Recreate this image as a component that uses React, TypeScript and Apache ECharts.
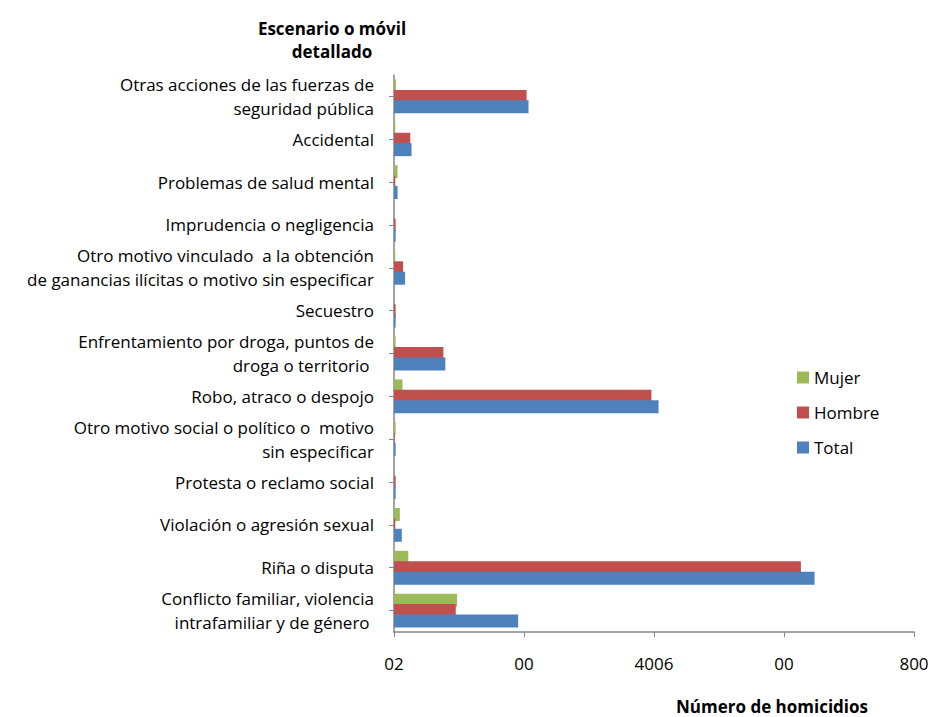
import React, { useEffect, useRef } from "react";
import * as echarts from "echarts";

const categories = [
  "Otras acciones de las fuerzas de\nseguridad pública",
  "Accidental",
  "Problemas de salud mental",
  "Imprudencia o negligencia",
  "Otro motivo vinculado  a la obtención\nde ganancias ilícitas o motivo sin especificar",
  "Secuestro",
  "Enfrentamiento por droga, puntos de\ndroga o territorio ",
  "Robo, atraco o despojo",
  "Otro motivo social o político o  motivo\nsin especificar",
  "Protesta o reclamo social",
  "Violación o agresión sexual",
  "Riña o disputa",
  "Conflicto familiar, violencia\nintrafamiliar y de género ",
];
const mujer = [3, 2, 5.5, 0, 2, 0, 2.5, 13, 2.5, 0, 9, 22, 97];
const hombre = [204, 25, 2, 2.5, 14, 2.5, 76, 396, 1, 2.5, 2, 626, 95];
const total = [207, 27, 5.5, 2.5, 17, 2.5, 79, 407, 2.5, 2.5, 12, 647, 191];
const xTickLabels: Record<number, string> = { 0: "02", 200: "00", 400: "4006", 600: "00", 800: "800" };

const FONT = "'Open Sans', Lato, sans-serif";

export default function App() {
  const ref = useRef<HTMLDivElement>(null);
  useEffect(() => {
    if (!ref.current) return;
    const chart = echarts.init(ref.current, null, { renderer: "svg" });
    const barCommon = { type: "bar" as const, barWidth: 13, barGap: "-20%" };
    chart.setOption({
      animation: false,
      textStyle: { fontFamily: FONT },
      grid: { left: 394, right: 20, top: 75, bottom: 85, containLabel: false },
      legend: {
        orient: "vertical",
        left: 792,
        top: 361,
        itemWidth: 12,
        itemHeight: 12,
        itemGap: 12,
        icon: "rect",
        data: ["Mujer", "Hombre", "Total"],
        textStyle: { fontSize: 17, color: "#000", fontFamily: FONT, lineHeight: 23 },
      },
      xAxis: {
        type: "value",
        min: 0,
        max: 800,
        interval: 200,
        splitLine: { show: false },
        axisLine: { show: true, lineStyle: { color: "#868686", width: 1.5 } },
        axisTick: { show: true, length: 5, lineStyle: { color: "#868686" } },
        axisLabel: {
          margin: 23,
          fontSize: 17,
          color: "#000",
          fontFamily: FONT,
          formatter: (v: number) => xTickLabels[v] ?? "",
        },
      },
      yAxis: {
        type: "category",
        inverse: true,
        data: categories,
        axisLine: { show: true, lineStyle: { color: "#868686", width: 1.5 } },
        axisTick: { show: true, alignWithLabel: true, length: 5, lineStyle: { color: "#868686" } },
        axisLabel: {
          margin: 20,
          fontSize: 17,
          lineHeight: 24,
          color: "#000",
          align: "right",
          fontFamily: FONT,
        },
      },
      series: [
        { ...barCommon, name: "Mujer", data: mujer, itemStyle: { color: "#9BBB59" }, z: 2 },
        { ...barCommon, name: "Hombre", data: hombre, itemStyle: { color: "#C0504D" }, z: 3 },
        { ...barCommon, name: "Total", data: total, itemStyle: { color: "#4F81BD" }, z: 4 },
      ],
      graphic: [
        {
          type: "text",
          x: 332,
          y: 17,
          style: {
            text: "Escenario o móvil\ndetallado",
            fontSize: 17,
            fontWeight: "bold",
            lineHeight: 23,
            align: "center",
            verticalAlign: "top",
            fill: "#000",
            fontFamily: FONT,
          },
        },
        {
          type: "text",
          x: 772,
          y: 696,
          style: {
            text: "Número de homicidios",
            fontSize: 17,
            lineHeight: 20,
            fontWeight: "bold",
            align: "center",
            verticalAlign: "top",
            fill: "#000",
            fontFamily: FONT,
          },
        },
      ],
    });
    return () => chart.dispose();
  }, []);
  return <div ref={ref} style={{ width: 934, height: 717, position: "absolute", left: 0, top: 0 }} />;
}
